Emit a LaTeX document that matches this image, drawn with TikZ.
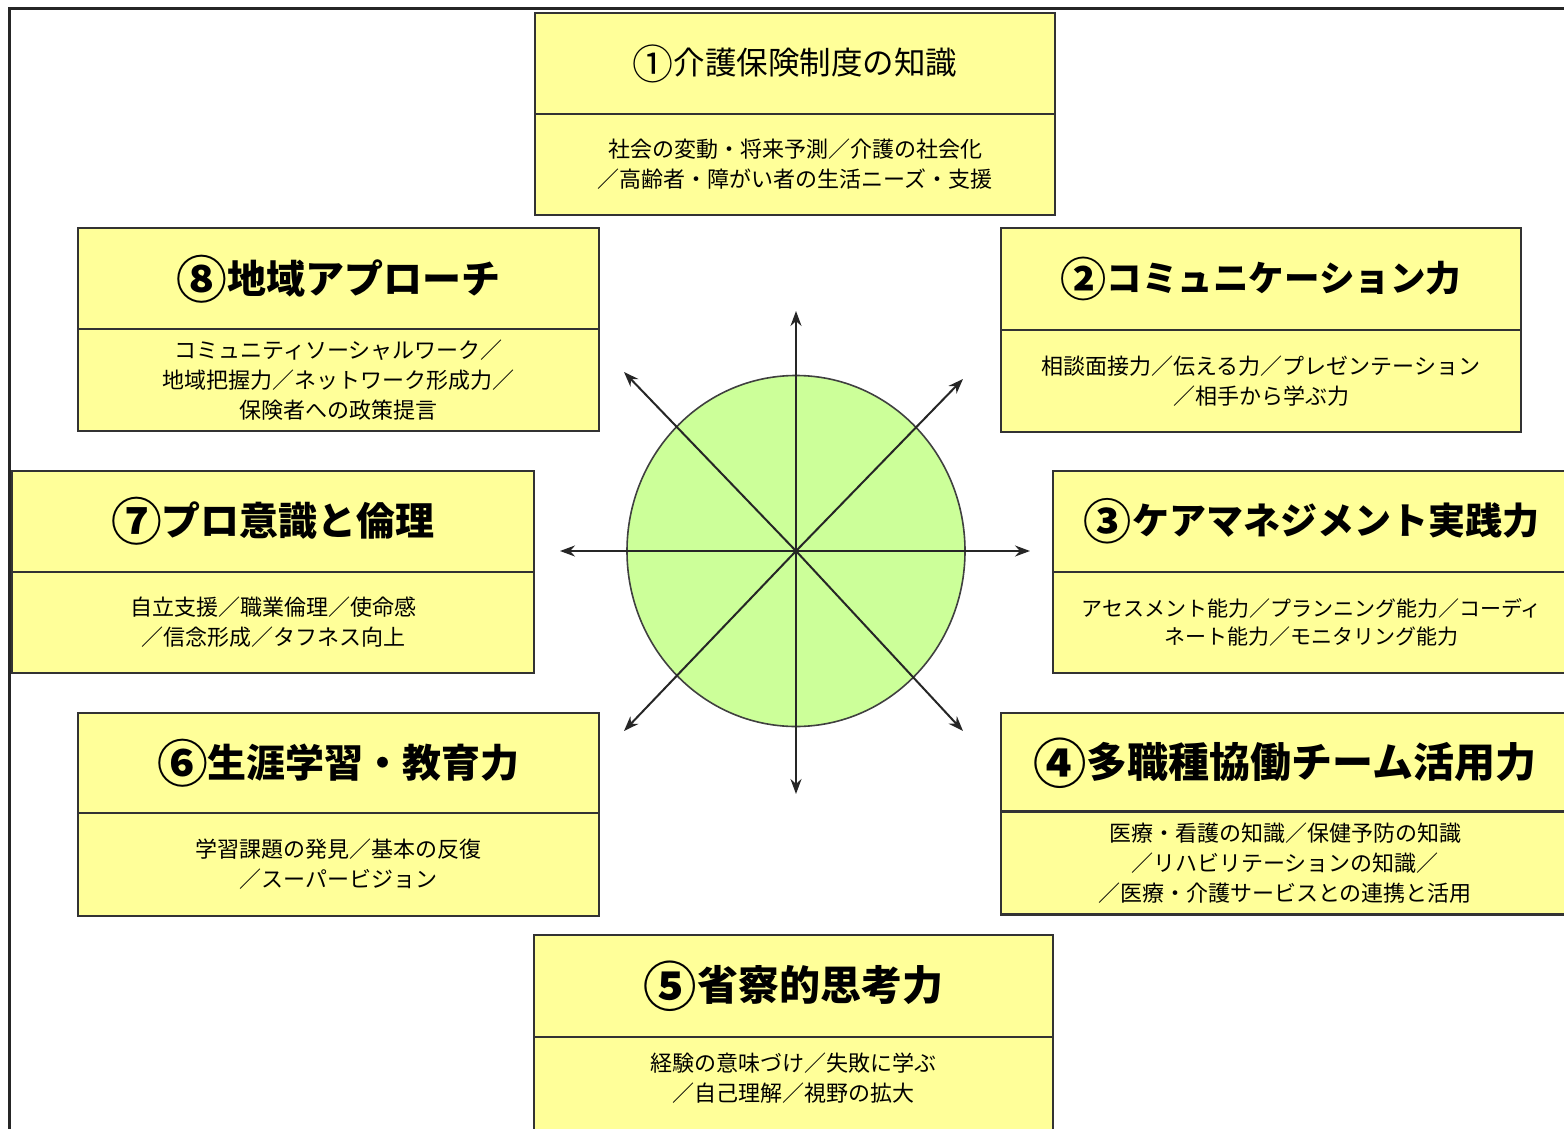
\documentclass[tikz,border=0pt]{standalone}
\usepackage{fontspec}
\setmainfont{Noto Sans CJK JP}
\usetikzlibrary{shapes.geometric,arrows.meta}
\definecolor{boxyellow}{HTML}{FFFF99}
\definecolor{circgreen}{HTML}{CCFF99}
\definecolor{edgegray}{HTML}{333333}
\tikzset{
  part/.style={draw=edgegray, line width=2.4pt, fill=boxyellow, rectangle, outer sep=0pt, inner sep=0pt, align=center, text=black},
  subtxt/.style={font=\fontsize{22}{30}\selectfont},
  arr/.style={draw=black!85, line width=2pt, -{Stealth[length=15pt,width=11pt]}},
}
\newcommand{\ttlfont}[1]{\fontsize{#1}{#1}\selectfont\bfseries}
\newcommand{\cnum}[1]{\raisebox{-0.13em}{\scalebox{1.3}{#1}}}
\begin{document}
\begin{tikzpicture}[x=1pt,y=-1pt]
\useasboundingbox (0,0) rectangle (1564,1129);
\fill[white] (0,0) rectangle (1564,1129);
% frame
\draw[line width=3pt, black!85] (1570,9) -- (9,9) -- (9,1135);

% Box 1
\node[part, minimum width=520, minimum height=101, font=\fontsize{31.5}{32}\selectfont] (t1) at (795,63.5) {\cnum{①}介護保険制度の知識};
\node[part, minimum width=520, minimum height=101, subtxt] (s1) at (795,164.5) {社会の変動・将来予測／介護の社会化\\／高齢者・障がい者の生活ニーズ・支援};

% Box 8
\node[part, minimum width=521, minimum height=102, font=\ttlfont{39}] (t8) at (338.5,279) {\cnum{⑧}地域アプローチ};
\node[part, minimum width=521, minimum height=102, subtxt] (s8) at (338.5,380) {コミュニティソーシャルワーク／\\地域把握力／ネットワーク形成力／\\保険者への政策提言};

% Box 2
\node[part, minimum width=520, minimum height=102, font=\ttlfont{35.5}] (t2) at (1261,279) {\cnum{②}コミュニケーション力};
\node[part, minimum width=520, minimum height=102, subtxt] (s2) at (1261,381) {相談面接力／伝える力／プレゼンテーション\\／相手から学ぶ力};

% Box 7
\node[part, minimum width=522, minimum height=101, font=\ttlfont{39}] (t7) at (273,521.5) {\cnum{⑦}プロ意識と倫理};
\node[part, minimum width=522, minimum height=101, subtxt] (s7) at (273,622.5) {自立支援／職業倫理／使命感\\／信念形成／タフネス向上};

% Box 3
\node[part, minimum width=517, minimum height=101, font=\ttlfont{37}] (t3) at (1311.5,521.5) {\cnum{③}ケアマネジメント実践力};
\node[part, minimum width=517, minimum height=101, subtxt, font=\fontsize{21}{28}\selectfont] (s3) at (1311.5,622.5) {アセスメント能力／プランニング能力／コーディ\\ネート能力／モニタリング能力};

% Box 6
\node[part, minimum width=521, minimum height=100, font=\ttlfont{39}] (t6) at (338.5,763) {\cnum{⑥}生涯学習・教育力};
\node[part, minimum width=521, minimum height=103, subtxt] (s6) at (338.5,864.5) {学習課題の発見／基本の反復\\／スーパービジョン};

% Box 4
\node[part, minimum width=568, minimum height=100, font=\ttlfont{41}] (t4) at (1285,763) {\cnum{④}多職種協働チーム活用力};
\node[part, minimum width=568, minimum height=103, subtxt] (s4) at (1285,863) {医療・看護の知識／保健予防の知識\\／リハビリテーションの知識／\\／医療・介護サービスとの連携と活用};

% Box 5
\node[part, minimum width=519, minimum height=102, font=\ttlfont{41}] (t5) at (793.5,986) {\cnum{⑤}省察的思考力};
\node[part, minimum width=519, minimum height=102] (s5) at (793.5,1088) {};
\node[subtxt, align=center, inner sep=0pt] (s5t) at (793.5,1078) {経験の意味づけ／失敗に学ぶ\\／自己理解／視野の拡大};

% central circle
\node[ellipse, draw=black!75, line width=1.6pt, fill=circgreen, minimum width=338, minimum height=351, inner sep=0pt] (c) at (796,551) {};

\coordinate (aN) at (796,311);
\coordinate (aS) at (796,794);
\coordinate (aW) at (560,551);
\coordinate (aE) at (1030,551);
\coordinate (aNE) at (963,379);
\coordinate (aNW) at (624,372);
\coordinate (aSW) at (624,731);
\coordinate (aSE) at (963,731);
\foreach \p in {aN,aS,aW,aE,aNE,aNW,aSW,aSE}
  \draw[arr] (c.center) -- (\p);
\end{tikzpicture}
\end{document}
